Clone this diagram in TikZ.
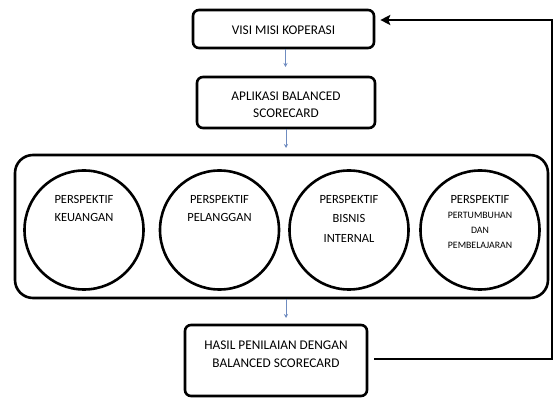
\documentclass[tikz,border=0pt]{standalone}
\usepackage{fontspec}
\setmainfont{Carlito}
\usetikzlibrary{arrows.meta,calc}
\definecolor{smallarrow}{HTML}{6F8CC0}
\tikzset{
  mainbox/.style={draw=black,line width=2.6pt,rounded corners=6pt,fill=white,inner sep=0pt},
  persp/.style={draw=black,line width=2.6pt,circle,fill=white,minimum size=119pt,inner sep=0pt},
  outerbox/.style={draw=black,line width=2.6pt,rounded corners=18pt,inner sep=0pt},
  boxtext/.style={align=center,font=\fontsize{13.3}{17}\selectfont,inner sep=0pt},
  circtext/.style={align=center,font=\fontsize{12.5}{18.5}\selectfont,inner sep=0pt,anchor=north},
  flowarrow/.style={draw=smallarrow,line width=1pt,-{Stealth[length=4pt,width=4pt]}},
  feedback/.style={draw=black,line width=2.8pt,-{Stealth[length=10pt,width=10pt,inset=2pt]}}
}
\begin{document}
\begin{tikzpicture}[x=1pt,y=-1pt]
\useasboundingbox (0,0) rectangle (555,398);
% top boxes
\node[mainbox,minimum width=181pt,minimum height=38pt] (v) at (283.5,29) {};
\node[boxtext] (vt) at (283.5,30) {VISI MISI KOPERASI};
\node[mainbox,minimum width=178pt,minimum height=51pt] (a) at (286,102.5) {};
\node[boxtext] (at) at (286,105) {APLIKASI BALANCED\\SCORECARD};
% outer container
\node[outerbox,minimum width=533pt,minimum height=143pt] (o) at (281.5,226.5) {};
% circles
\node[persp] (c1) at (84,230) {};
\node[persp] (c2) at (219.5,230) {};
\node[persp] (c3) at (349,230) {};
\node[persp] (c4) at (480,230) {};
\node[circtext] (t1) at (84,195) {PERSPEKTIF\\KEUANGAN};
\node[circtext] (t2) at (219.5,195) {PERSPEKTIF\\PELANGGAN};
\node[circtext,font=\fontsize{12.5}{19.5}\selectfont] (t3) at (349,195) {PERSPEKTIF\\BISNIS\\INTERNAL};
\node[circtext,font=\fontsize{12.5}{15}\selectfont] (t4) at (480,195) {PERSPEKTIF\\{\fontsize{9.8}{15.5}\selectfont PERTUMBUHAN}\\{\fontsize{9.8}{15.5}\selectfont DAN}\\{\fontsize{9.8}{15.5}\selectfont PEMBELAJARAN}};
% bottom box
\node[mainbox,minimum width=182pt,minimum height=71pt] (h) at (276,360.5) {};
\node[boxtext,font=\fontsize{13.3}{18}\selectfont] (ht) at (276,354) {HASIL PENILAIAN DENGAN\\BALANCED SCORECARD};
% small arrows
\draw[flowarrow] (v.south) ++(2,0) coordinate (s1) -- (s1 |- 0,67);
\draw[flowarrow] (a.south) ++(0,0) coordinate (s2) -- (s2 |- 0,148);
\draw[flowarrow] (o.south) ++(4.5,0) coordinate (s3) -- (s3 |- 0,318);
% feedback
\coordinate (fbr) at (552,20);
\draw[feedback,line join=miter,shorten <=6pt,shorten >=5pt] (h.east |- 0,359) -| (fbr) -- (v.east |- fbr);
\end{tikzpicture}
\end{document}
